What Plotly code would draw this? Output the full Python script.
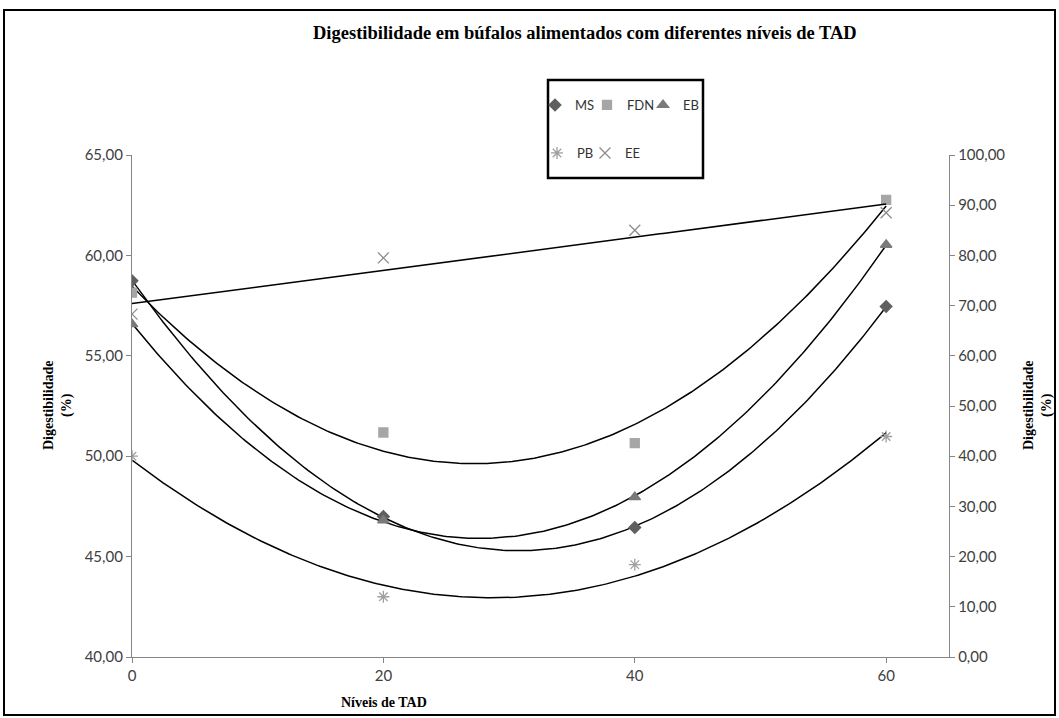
import numpy as np
import plotly.graph_objects as go

# ---------------- data ----------------
niveis = [0, 20, 40, 60]
ms = [58.74, 47.00, 46.45, 57.46]
fdn = [58.15, 51.18, 50.65, 62.77]
eb = [56.58, 46.80, 47.96, 60.53]
pb = [50.00, 43.00, 44.60, 50.98]
ee = [68.3, 79.5, 85.0, 88.5]   # right axis

x_ticks = [0, 20, 40, 60]
y_left_ticks = [40, 45, 50, 55, 60, 65]
y_right_ticks = [0, 10, 20, 30, 40, 50, 60, 70, 80, 90, 100]

title_text = "Digestibilidade em búfalos alimentados com diferentes níveis de TAD"
x_title = "Níveis de TAD"
y_title = "Digestibilidade<br>(%)"

# ---------------- layout geometry ----------------
W, H = 1059, 718
L, R, T, B = 132, 949, 155, 657


def px(x):
    return (x - L) / (R - L)


def py(y):
    return (B - y) / (B - T)


fig = go.Figure()

xs = np.linspace(0, 60, 241)
for vals, deg, axis in [(ms, 2, "y"), (fdn, 2, "y"), (eb, 2, "y"), (pb, 2, "y"), (ee, 1, "y2")]:
    coef = np.polyfit(niveis, vals, deg)
    fig.add_trace(go.Scatter(x=xs, y=np.polyval(coef, xs), mode="lines",
                             line=dict(color="black", width=1.5), yaxis=axis,
                             showlegend=False, hoverinfo="skip"))

# name, values, symbol, colour, size, axis, legend id, legend symbol x(px), legend row y(px)
series = [
    ("MS", ms, "diamond", "#5f5f5f", 9, "y", "legend", 554, 105),
    ("FDN", fdn, "square", "#a6a6a6", 9, "y", "legend2", 606, 105),
    ("EB", eb, "triangle-up", "#7a7a7a", 10, "y", "legend3", 662, 105),
    ("PB", pb, "asterisk-open", "#a0a0a0", 10, "y", "legend4", 556, 153),
    ("EE", ee, "x-thin-open", "#8c8c8c", 11, "y2", "legend5", 604, 153),
]
legend_font = dict(family="Lato", size=13, color="#333333")
legends = {}
for name, vals, sym, col, size, axis, leg, lx, ly in series:
    fig.add_trace(go.Scatter(x=niveis, y=vals, mode="markers", name=name, yaxis=axis,
                             legend=leg,
                             marker=dict(symbol=sym, color=col, size=size,
                                         line=dict(color=col, width=1.3))))
    legends[leg] = dict(orientation="h", x=px(lx - 19), y=py(ly), xanchor="left",
                        yanchor="middle", font=legend_font, bgcolor="rgba(0,0,0,0)",
                        itemwidth=30)

tickfont = dict(family="Lato", size=15, color="#404040")
axis_common = dict(showline=True, linecolor="#868686", linewidth=1.3, ticks="outside",
                   ticklen=5, tickcolor="#868686", showgrid=False, zeroline=False,
                   tickfont=tickfont)

serif_bold = dict(family="Liberation Serif", color="black")

fig.update_layout(
    width=W, height=H,
    margin=dict(l=L, r=W - R, t=T, b=H - B),
    paper_bgcolor="white", plot_bgcolor="white",
    separators=",.",
    xaxis=dict(range=[0, 65], tickvals=x_ticks, **axis_common),
    yaxis=dict(range=[40, 65], tickvals=y_left_ticks, tickformat=".2f", **axis_common),
    yaxis2=dict(range=[0, 100], tickvals=y_right_ticks, tickformat=".2f", overlaying="y",
                side="right", **axis_common),
    annotations=[
        dict(text="<b>" + title_text + "</b>", x=px(585), y=py(33), xref="paper", yref="paper",
             showarrow=False, font=dict(size=18.5, **serif_bold), xanchor="center", yanchor="middle"),
        dict(text="<b>" + x_title + "</b>", x=px(384), y=py(702), xref="paper", yref="paper",
             showarrow=False, font=dict(size=14, **serif_bold), xanchor="center", yanchor="middle"),
        dict(text="<b>" + y_title + "</b>", x=px(58), y=py(406), xref="paper", yref="paper",
             showarrow=False, textangle=-90, font=dict(size=14, **serif_bold),
             xanchor="center", yanchor="middle"),
        dict(text="<b>" + y_title + "</b>", x=px(1038), y=py(406), xref="paper", yref="paper",
             showarrow=False, textangle=-90, font=dict(size=14, **serif_bold),
             xanchor="center", yanchor="middle"),
    ],
    shapes=[
        dict(type="rect", xref="paper", yref="paper", x0=px(4), x1=px(1055), y0=py(10), y1=py(715),
             line=dict(color="black", width=2)),
        dict(type="rect", xref="paper", yref="paper", x0=px(548), x1=px(703), y0=py(80), y1=py(178),
             line=dict(color="black", width=2.5)),
    ],
    **legends,
)

fig.write_html("out.html")
